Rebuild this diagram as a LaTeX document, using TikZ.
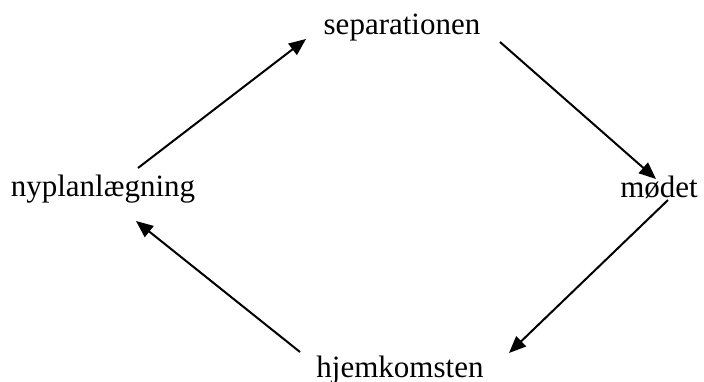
\documentclass[tikz,border=0pt]{standalone}
\usepackage{fontspec}
\setmainfont{Liberation Serif}
\usetikzlibrary{arrows.meta}
\begin{document}
\begin{tikzpicture}[x=1pt,y=-1pt,
  lbl/.style={inner sep=0pt,anchor=base,font=\fontsize{31}{34}\selectfont},
  arr/.style={line width=2pt,-{Triangle[length=17pt,width=14pt]}}]
\useasboundingbox (0,0) rectangle (704,382);
\node[lbl] (sep) at (402,35) {separationen};
\node[lbl] (nyp) at (103,197) {nyplanlægning};
\node[lbl] (mod) at (659,198) {mødet};
\node[lbl] (hjem) at (400,377) {hjemkomsten};
\coordinate (a1s) at (138,168);
\coordinate (a1e) at (306,39);
\coordinate (a2s) at (500,42);
\coordinate (a2e) at (656,179);
\coordinate (a3s) at (668,200);
\coordinate (a3e) at (509,353);
\coordinate (a4s) at (300,352);
\coordinate (a4e) at (136,221);
\draw[arr] (a1s) -- (a1e);
\draw[arr] (a2s) -- (a2e);
\draw[arr] (a3s) -- (a3e);
\draw[arr] (a4s) -- (a4e);
\end{tikzpicture}
\end{document}
